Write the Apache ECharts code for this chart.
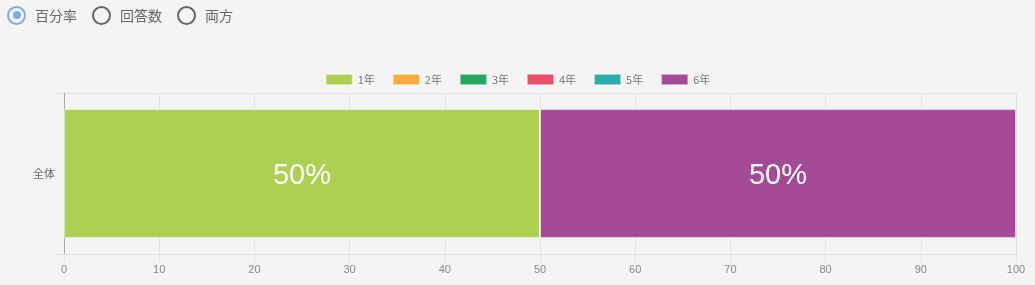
<!DOCTYPE html>
<html><head><meta charset="utf-8">
<script src="https://cdn.jsdelivr.net/npm/echarts@6/dist/echarts.min.js"></script>
<style>
html,body{margin:0;padding:0;background:#f4f4f4;width:1035px;height:285px;overflow:hidden;font-family:"Noto Sans CJK JP","Liberation Sans",sans-serif;}
#chart{position:absolute;left:0;top:0;width:1035px;height:285px;}
#radios{position:absolute;left:7px;top:5px;z-index:2;font-size:14px;color:#666;display:flex;align-items:center;}
.r{display:flex;align-items:center;margin-right:15px;}
.c{width:15px;height:15px;border:2px solid #666;border-radius:50%;box-sizing:content-box;margin-right:9px;position:relative;}
.c.on{border-color:#7eaaf5;}
.c.on::after{content:"";position:absolute;left:3.5px;top:3.5px;width:8px;height:8px;border-radius:50%;background:#7eaaf5;}
</style></head><body>
<div id="radios">
<div class="r"><span class="c on"></span><span>百分率</span></div>
<div class="r"><span class="c"></span><span>回答数</span></div>
<div class="r"><span class="c"></span><span>両方</span></div>
</div>
<div id="chart"></div>
<script>
const categories = ['全体'];
const seriesNames = ['1年','2年','3年','4年','5年','6年'];
const v1 = [50];
const v2 = [0];
const v3 = [0];
const v4 = [0];
const v5 = [0];
const v6 = [50];
const xTicks = [0,10,20,30,40,50,60,70,80,90,100];
const colors = ['#acd052','#f9ac3e','#27a85e','#eb5169','#2cadaa','#a54a96'];
const values = [v1,v2,v3,v4,v5,v6];

const chart = echarts.init(document.getElementById('chart'));
chart.setOption({
  backgroundColor:'#f4f4f4',
  animation:false,
  color:colors,
  legend:{
    top:68, left:'center', itemWidth:27, itemHeight:11, itemGap:17, icon:'rect',
    textStyle:{color:'#777', fontSize:11, fontFamily:'"Noto Sans CJK JP","Liberation Sans",sans-serif'},
    data:seriesNames
  },
  grid:{left:64, right:19, top:93, bottom:31, containLabel:false},
  xAxis:{
    type:'value', min:xTicks[0], max:xTicks[xTicks.length-1], interval:10,
    axisLine:{show:true, lineStyle:{color:'#e2e2e2'}},
    axisTick:{show:true, length:8, lineStyle:{color:'#e2e2e2'}},
    splitLine:{show:true, lineStyle:{color:'#e4e4e4'}},
    axisLabel:{color:'#888', fontSize:11, margin:10, fontFamily:'"Liberation Sans",sans-serif'}
  },
  yAxis:{
    type:'category', data:categories,
    axisLine:{show:true, lineStyle:{color:'#aaa'}},
    axisTick:{show:true, length:9, lineStyle:{color:'#e2e2e2'}},
    splitLine:{show:true, lineStyle:{color:'#e2e2e2'}},
    axisLabel:{color:'#666', fontSize:11, margin:9, fontFamily:'"Noto Sans CJK JP",sans-serif'}
  },
  series: seriesNames.map((n,i)=>({
    name:n, type:'bar', stack:'total', barWidth:'80%',
    data: values[i],
    itemStyle:{borderColor:'rgba(255,255,255,0.5)', borderWidth:1},
    label:{show:true, position:'inside', color:'#fff', fontSize:29, offset:[0,2],
      fontFamily:'"Liberation Sans",Arial,sans-serif',
      formatter:p=>p.value>0?p.value+'%':''}
  }))
});
</script>
</body></html>
